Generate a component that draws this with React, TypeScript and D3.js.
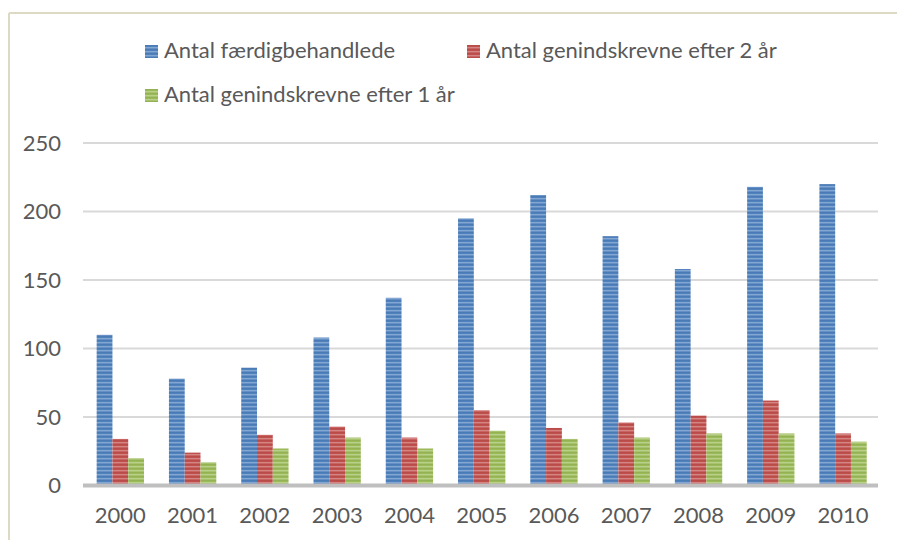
import React, { useEffect, useRef } from "react";
import * as d3 from "d3";

const years = ["2000", "2001", "2002", "2003", "2004", "2005", "2006", "2007", "2008", "2009", "2010"];
const faerdig = [110, 78, 86, 108, 137, 195, 212, 182, 158, 218, 220];
const efter2 = [34, 24, 37, 43, 35, 55, 42, 46, 51, 62, 38];
const efter1 = [20, 17, 27, 35, 27, 40, 34, 35, 38, 38, 32];
const seriesNames = ["Antal færdigbehandlede", "Antal genindskrevne efter 2 år", "Antal genindskrevne efter 1 år"];
const yTicks = [0, 50, 100, 150, 200, 250];

const colors = ["#4f81bd", "#c0504d", "#9bbb59"];
const textColor = "#595959";
const font = "Lato, 'Open Sans', sans-serif";

const App = () => {
  const ref = useRef<SVGSVGElement>(null);

  useEffect(() => {
    const svg = d3.select(ref.current);
    svg.selectAll("*").remove();

    const series = [faerdig, efter2, efter1];
    const left = 83;
    const right = 878;

    // stripe patterns like the office fill
    const defs = svg.append("defs");
    colors.forEach((c, i) => {
      const p = defs
        .append("pattern")
        .attr("id", "stripe" + i)
        .attr("patternUnits", "userSpaceOnUse")
        .attr("width", 8)
        .attr("height", 4);
      p.append("rect").attr("width", 8).attr("height", 4).attr("fill", c);
      p.append("rect").attr("y", 2).attr("width", 8).attr("height", 1.4).attr("fill", "#fff").attr("opacity", 0.3);
      p.append("rect").attr("y", 0).attr("width", 8).attr("height", 0.8).attr("fill", "#000").attr("opacity", 0.06);
    });

    // outer frame
    svg.append("line").attr("x1", 9).attr("x2", 897).attr("y1", 13).attr("y2", 13).attr("stroke", "#ddd9c3").attr("stroke-width", 2);
    svg.append("line").attr("x1", 9).attr("x2", 9).attr("y1", 13).attr("y2", 540).attr("stroke", "#ddd9c3").attr("stroke-width", 2);

    const y = d3.scaleLinear().domain([0, 250]).range([485.5, 143]);
    const x = d3.scaleBand<string>().domain(years).range([left + 1.2, right + 1.2]).paddingInner(0.345).paddingOuter(0.1725);
    const xs = d3.scaleBand<number>().domain([0, 1, 2]).range([0, x.bandwidth()]);

    // gridlines
    svg
      .append("g")
      .selectAll("line")
      .data(yTicks.filter(d => d > 0))
      .enter()
      .append("line")
      .attr("x1", left)
      .attr("x2", right)
      .attr("y1", d => y(d))
      .attr("y2", d => y(d))
      .attr("stroke", "#d9d9d9")
      .attr("stroke-width", 2);

    // y labels
    svg
      .append("g")
      .selectAll("text")
      .data(yTicks)
      .enter()
      .append("text")
      .attr("x", 61)
      .attr("y", d => y(d))
      .attr("dy", "0.36em")
      .attr("text-anchor", "end")
      .attr("font-family", font)
      .attr("font-size", 22)
      .attr("fill", textColor)
      .text(d => d);

    // bars
    series.forEach((vals, s) => {
      svg
        .append("g")
        .selectAll("rect")
        .data(vals)
        .enter()
        .append("rect")
        .attr("x", (d, i) => x(years[i]) + xs(s))
        .attr("y", d => y(d))
        .attr("width", xs.bandwidth())
        .attr("height", d => y(0) - y(d))
        .attr("fill", `url(#stripe${s})`);
    });

    // baseline
    svg.append("line").attr("x1", left).attr("x2", right).attr("y1", y(0)).attr("y2", y(0)).attr("stroke", "#bfbfbf").attr("stroke-width", 4);

    // x labels
    svg
      .append("g")
      .selectAll("text")
      .data(years)
      .enter()
      .append("text")
      .attr("x", d => x(d) + x.bandwidth() / 2)
      .attr("y", 523)
      .attr("text-anchor", "middle")
      .attr("font-family", font)
      .attr("font-size", 22)
      .attr("fill", textColor)
      .text(d => d);

    // legend
    const legendPos = [
      [145, 45],
      [467, 45],
      [145, 89]
    ];
    seriesNames.forEach((name, i) => {
      const g = svg.append("g").attr("transform", `translate(${legendPos[i][0]},${legendPos[i][1]})`);
      g.append("rect").attr("width", 13).attr("height", 13).attr("fill", `url(#stripe${i})`);
      g.append("text")
        .attr("x", 19)
        .attr("y", 13)
        .attr("font-family", font)
        .attr("font-size", 22)
        .attr("fill", textColor)
        .text(name);
    });
  }, []);

  return <svg ref={ref} width={897} height={540} style={{ position: "absolute", left: 0, top: 0, background: "#fff" }} />;
};

export default App;
